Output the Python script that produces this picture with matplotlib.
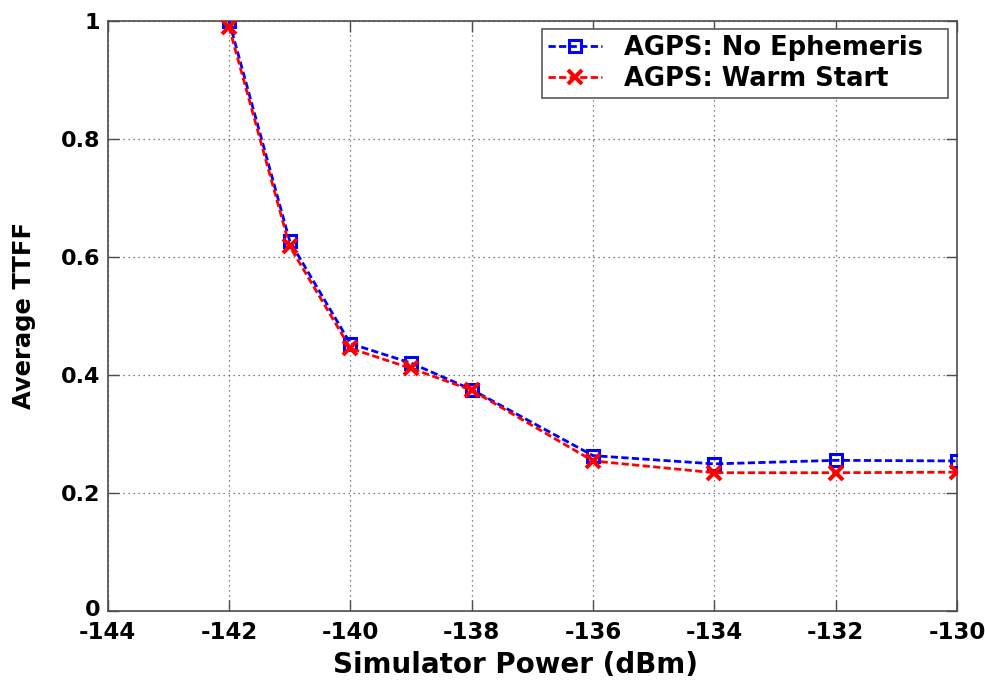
import matplotlib
matplotlib.use("Agg")
import matplotlib.pyplot as plt
import matplotlib.transforms as mtransforms

power_dbm = [-142, -141, -140, -139, -138, -136, -134, -132, -130]
ttff_no_ephemeris = [1.000, 0.627, 0.453, 0.420, 0.375, 0.263, 0.249, 0.255, 0.254]
ttff_warm_start = [0.990, 0.618, 0.445, 0.411, 0.374, 0.254, 0.234, 0.234, 0.235]
x_ticks = [-144, -142, -140, -138, -136, -134, -132, -130]
y_ticks = [0, 0.2, 0.4, 0.6, 0.8, 1]
y_tick_labels = ["0", "0.2", "0.4", "0.6", "0.8", "1"]
labels = ["AGPS: No Ephemeris", "AGPS: Warm Start"]

plt.rcParams['font.family'] = ['DejaVu Sans']
plt.rcParams['font.weight'] = 'bold'

fig = plt.figure(figsize=(9.85, 6.83), dpi=100)
ax = fig.add_axes([0.1093, 0.1058, 0.8623, 0.8635])

dash = (0, (2.6, 1.2))
ax.plot(power_dbm, ttff_no_ephemeris, color='#0000ff', lw=2.0, linestyle=dash,
        marker='s', markersize=8.5, markerfacecolor='none', markeredgewidth=2.2,
        markeredgecolor='#0000ff', label=labels[0], zorder=3)
ax.plot(power_dbm, ttff_warm_start, color='#ff0000', lw=2.0, linestyle=dash,
        marker='x', markersize=10.5, markeredgewidth=2.9,
        markeredgecolor='#ff0000', label=labels[1], zorder=4)

ax.set_xlim(-144, -130)
ax.set_ylim(0, 1)
ax.set_xticks(x_ticks)
ax.set_xticklabels([str(v) for v in x_ticks], fontsize=16.5, fontweight='bold')
ax.set_yticks(y_ticks)
ax.set_yticklabels(y_tick_labels, fontsize=16, fontweight='bold')
ax.tick_params(axis='both', direction='in', length=8, width=1, color='0.3',
               top=True, right=True)
ax.tick_params(axis='x', pad=7.5)
ax.tick_params(axis='y', pad=5.5)

# nudge the "0" y tick label up slightly so it does not collide with "-144"
ylabs = ax.get_yticklabels()
ylabs[0].set_transform(ylabs[0].get_transform() +
                       mtransforms.ScaledTranslation(0, 3 / 100, fig.dpi_scale_trans))

ax.grid(True, color='0.35', linestyle=(0, (1, 3)), linewidth=0.9)
for s in ax.spines.values():
    s.set_color('0.3')
    s.set_linewidth(1.2)

ax.set_xlabel("Simulator Power (dBm)", fontsize=20, fontweight='bold')
ax.xaxis.set_label_coords(0.4796, -0.068)
ax.set_ylabel("Average TTFF", fontsize=17.5, fontweight='bold', labelpad=18)

leg = ax.legend(loc='upper right', bbox_to_anchor=(0.511, 0.5, 0.478, 0.4859),
                mode='expand', borderaxespad=0,
                prop={'size': 18.5, 'weight': 'bold'}, fancybox=False, framealpha=1,
                edgecolor='0.35', handlelength=2.1, handletextpad=0.85,
                borderpad=0.24, labelspacing=0.16)
leg.get_frame().set_linewidth(1.2)

fig.savefig("out.png", dpi=100)
